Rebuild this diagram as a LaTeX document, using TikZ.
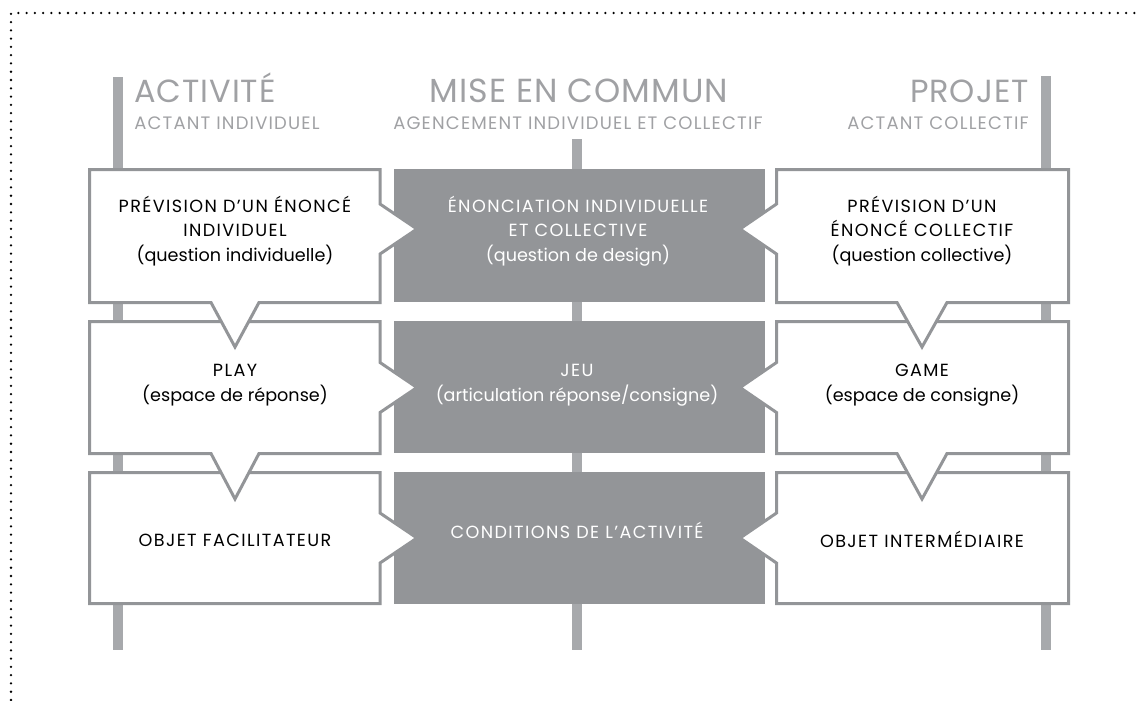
\documentclass[tikz,border=0pt]{standalone}
\usepackage{fontspec}
\setmainfont{Poppins}
\newfontfamily\capsfont[LetterSpace=8]{Poppins}
\newfontfamily\headfont[LetterSpace=3]{Poppins}
\newfontfamily\subheadfont[LetterSpace=6.5]{Poppins}
\definecolor{bargray}{RGB}{167,169,172}
\definecolor{linegray}{RGB}{147,149,152}
\definecolor{headgray}{RGB}{160,161,164}
\tikzset{
	colbar/.style={fill=bargray},
	lightbox/.style={draw=linegray, fill=white, line width=2.25pt, line join=miter},
	darkbox/.style={fill=linegray},
	boxtext/.style={inner sep=0pt, align=center, font=\capsfont\fontsize{13.2pt}{18.4pt}\selectfont},
	darktext/.style={boxtext, text=white},
	bighead/.style={inner sep=0pt, text=headgray, font=\headfont\fontsize{24pt}{24pt}\selectfont},
	smallhead/.style={inner sep=0pt, text=headgray, font=\subheadfont\fontsize{13.5pt}{13.5pt}\selectfont},
}
\begin{document}
\begin{tikzpicture}[x=0.75pt,y=0.75pt,yscale=-1,xscale=1]
	\useasboundingbox (0,0) rectangle (1137,700);
	
	%Dotted frame
	\draw [line width=1.9pt, line cap=round, dash pattern={on 0pt off 6.2pt}] (11,700) -- (11,13) -- (1137,13) ;
	
	%Column bars
	\fill [colbar] (113.25,77) rectangle (122.75,650) ;
	\fill [colbar] (572,139) rectangle (582,650) ;
	\fill [colbar] (1041.25,76) rectangle (1050.75,650) ;
	
	%Dark boxes
	\fill [darkbox] (394,169) rectangle (765,302) ;
	\fill [darkbox] (394,321) rectangle (765,453) ;
	\fill [darkbox] (394,472) rectangle (765,604) ;
	
	%Row 3
	\draw [lightbox] (89.5,472.5) -- (380,472.5) -- (380,513) -- (417,538) -- (380,563) -- (380,603.5) -- (89.5,603.5) -- cycle ;
	\draw [lightbox] (776.5,472.5) -- (1068.5,472.5) -- (1068.5,603.5) -- (776.5,603.5) -- (776.5,563) -- (740,538) -- (776.5,513) -- cycle ;
	%Row 2
	\draw [lightbox] (89.5,321.5) -- (380,321.5) -- (380,362.5) -- (417,387.5) -- (380,412.5) -- (380,453.5) -- (259,453.5) -- (235,499) -- (211,453.5) -- (89.5,453.5) -- cycle ;
	\draw [lightbox] (776.5,321.5) -- (1068.5,321.5) -- (1068.5,453.5) -- (947,453.5) -- (922,499) -- (897,453.5) -- (776.5,453.5) -- (776.5,412.5) -- (740,387.5) -- (776.5,362.5) -- cycle ;
	%Row 1
	\draw [lightbox] (89.5,169.5) -- (380,169.5) -- (380,204) -- (417,229) -- (380,254) -- (380,302.5) -- (259,302.5) -- (235,347) -- (211,302.5) -- (89.5,302.5) -- cycle ;
	\draw [lightbox] (776.5,169.5) -- (1068.5,169.5) -- (1068.5,302.5) -- (947,302.5) -- (922,347) -- (897,302.5) -- (776.5,302.5) -- (776.5,254) -- (740,229) -- (776.5,204) -- cycle ;
	
	% Headings
	\node [bighead, anchor=base west] (activite) at (134,102) {ACTIVITÉ};
	\node [smallhead, anchor=base west] (actantind) at (134,129) {ACTANT INDIVIDUEL};
	\node [bighead, anchor=base] (miseencommun) at (579,102) {\fontsize{25pt}{25pt}\selectfont MISE EN COMMUN};
	\node [smallhead, anchor=base] (agencement) at (578,129) {AGENCEMENT INDIVIDUEL ET COLLECTIF};
	\node [bighead, anchor=base east] (projet) at (1029,102) {PROJET};
	\node [smallhead, anchor=base east] (actantcol) at (1029,129) {ACTANT COLLECTIF};
	
	% Box texts
	\node [boxtext] (prevind) at (235,231) {PRÉVISION D’UN ÉNONCÉ\\INDIVIDUEL\\{\rmfamily(question individuelle)}};
	\node [darktext] (enonciation) at (578,231) {ÉNONCIATION INDIVIDUELLE\\ET COLLECTIVE\\{\rmfamily(question de design)}};
	\node [boxtext] (prevcol) at (922,231) {PRÉVISION D’UN\\ÉNONCÉ COLLECTIF\\{\rmfamily(question collective)}};
	\node [boxtext] (play) at (235,385) {PLAY\\{\rmfamily(espace de réponse)}};
	\node [darktext] (jeu) at (577,385) {JEU\\{\rmfamily(articulation réponse/consigne)}};
	\node [boxtext] (game) at (922,385) {GAME\\{\rmfamily(espace de consigne)}};
	\node [boxtext] (facilitateur) at (235,540) {OBJET FACILITATEUR};
	\node [darktext] (conditions) at (577,530) {CONDITIONS DE L’ACTIVITÉ};
	\node [boxtext] (intermediaire) at (922,539) {OBJET INTERMÉDIAIRE};
\end{tikzpicture}
\end{document}
